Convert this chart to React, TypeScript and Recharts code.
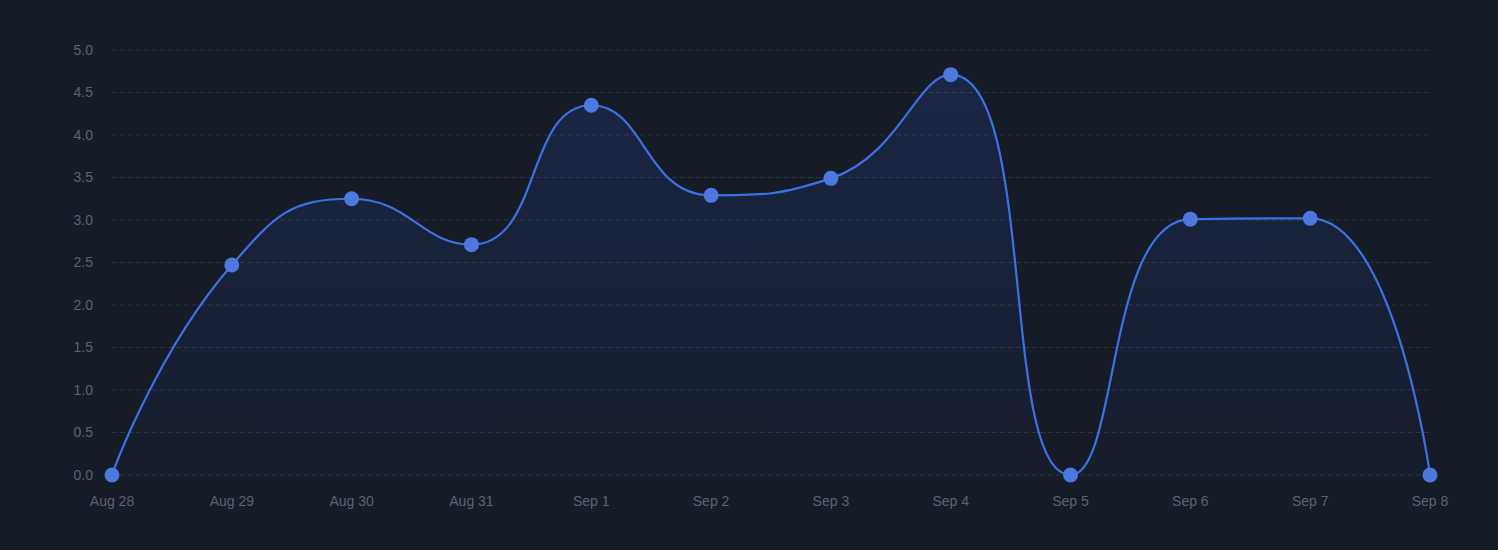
import React from "react";
import { AreaChart, Area, XAxis, YAxis, CartesianGrid } from "recharts";

const categories = ["Aug 28", "Aug 29", "Aug 30", "Aug 31", "Sep 1", "Sep 2", "Sep 3", "Sep 4", "Sep 5", "Sep 6", "Sep 7", "Sep 8"];
const values = [0, 2.47, 3.25, 2.71, 4.35, 3.29, 3.49, 4.71, 0, 3.01, 3.02, 0];
const yTicks = [0, 0.5, 1, 1.5, 2, 2.5, 3, 3.5, 4, 4.5, 5];

const data = categories.map((c, i) => ({ name: c, value: values[i] }));

const SMOOTH = 0.5;

// Smoothing curve factory (bezier with clamped control points), d3-shape curve interface
function smoothCurve(context: any) {
  let pts: [number, number][] = [];
  let line: number = NaN;
  const draw = () => {
    const n = pts.length;
    if (n === 0) return;
    const [x0, y0] = pts[0];
    if (line) context.lineTo(x0, y0);
    else context.moveTo(x0, y0);
    let cpx0 = x0;
    let cpy0 = y0;
    for (let i = 1; i < n; i++) {
      const [px, py] = pts[i - 1];
      const [x, y] = pts[i];
      let cpx1 = x;
      let cpy1 = y;
      let nextCpx0 = x;
      let nextCpy0 = y;
      if (i < n - 1) {
        const [nx, ny] = pts[i + 1];
        let vx = nx - px;
        let vy = ny - py;
        const dx0 = x - px, dy0 = y - py, dx1 = nx - x, dy1 = ny - y;
        const lenPrev = Math.sqrt(dx0 * dx0 + dy0 * dy0);
        const lenNext = Math.sqrt(dx1 * dx1 + dy1 * dy1);
        if (lenPrev > 0 && lenNext > 0) {
          const ratio = lenNext / (lenNext + lenPrev);
          nextCpx0 = x + vx * SMOOTH * ratio;
          nextCpy0 = y + vy * SMOOTH * ratio;
          nextCpx0 = Math.min(nextCpx0, Math.max(nx, x));
          nextCpy0 = Math.min(nextCpy0, Math.max(ny, y));
          nextCpx0 = Math.max(nextCpx0, Math.min(nx, x));
          nextCpy0 = Math.max(nextCpy0, Math.min(ny, y));
          vx = nextCpx0 - x;
          vy = nextCpy0 - y;
          cpx1 = x - (vx * lenPrev) / lenNext;
          cpy1 = y - (vy * lenPrev) / lenNext;
          cpx1 = Math.min(cpx1, Math.max(px, x));
          cpy1 = Math.min(cpy1, Math.max(py, y));
          cpx1 = Math.max(cpx1, Math.min(px, x));
          cpy1 = Math.max(cpy1, Math.min(py, y));
          vx = x - cpx1;
          vy = y - cpy1;
          nextCpx0 = x + (vx * lenNext) / lenPrev;
          nextCpy0 = y + (vy * lenNext) / lenPrev;
        }
      }
      context.bezierCurveTo(cpx0, cpy0, cpx1, cpy1, x, y);
      cpx0 = nextCpx0;
      cpy0 = nextCpy0;
    }
  };
  return {
    areaStart() {
      line = 0;
    },
    areaEnd() {
      line = NaN;
    },
    lineStart() {
      pts = [];
    },
    lineEnd() {
      draw();
      if (line || (line !== 0 && pts.length === 1)) context.closePath();
      line = 1 - line;
    },
    point(x: number, y: number) {
      pts.push([+x, +y]);
    },
  };
}

const tickStyle = { fill: "#5c6472", fontSize: 14, fontFamily: "Liberation Sans, Arial, sans-serif" };

export default function App() {
  return (
    <div style={{ position: "absolute", left: 0, top: 0, width: 1498, height: 550, background: "#151b27" }}>
      <AreaChart width={1498} height={550} data={data} margin={{ top: 50, right: 68, left: 0, bottom: 0 }}>
        <defs>
          <linearGradient id="areaFill" x1="0" y1="0" x2="0" y2="1">
            <stop offset="0%" stopColor="#2a5cd0" stopOpacity={0.3} />
            <stop offset="100%" stopColor="#2a5cd0" stopOpacity={0.04} />
          </linearGradient>
        </defs>
        <CartesianGrid vertical={false} stroke="#2d3543" strokeDasharray="5 3" />
        <XAxis
          dataKey="name"
          height={75}
          axisLine={false}
          tickLine={false}
          tickSize={0}
          tickMargin={21}
          tick={tickStyle}
          interval={0}
        />
        <YAxis
          width={112}
          domain={[0, 5]}
          ticks={yTicks}
          tickFormatter={(v: number) => v.toFixed(1)}
          axisLine={false}
          tickLine={false}
          tickSize={0}
          tickMargin={19}
          tick={tickStyle}
        />
        <Area
          type={smoothCurve as any}
          dataKey="value"
          stroke="#3d72e2"
          strokeWidth={2.2}
          fill="url(#areaFill)"
          dot={{ r: 7.5, fill: "#4c78e0", stroke: "none", fillOpacity: 1 }}
          activeDot={false}
          isAnimationActive={false}
        />
      </AreaChart>
    </div>
  );
}
